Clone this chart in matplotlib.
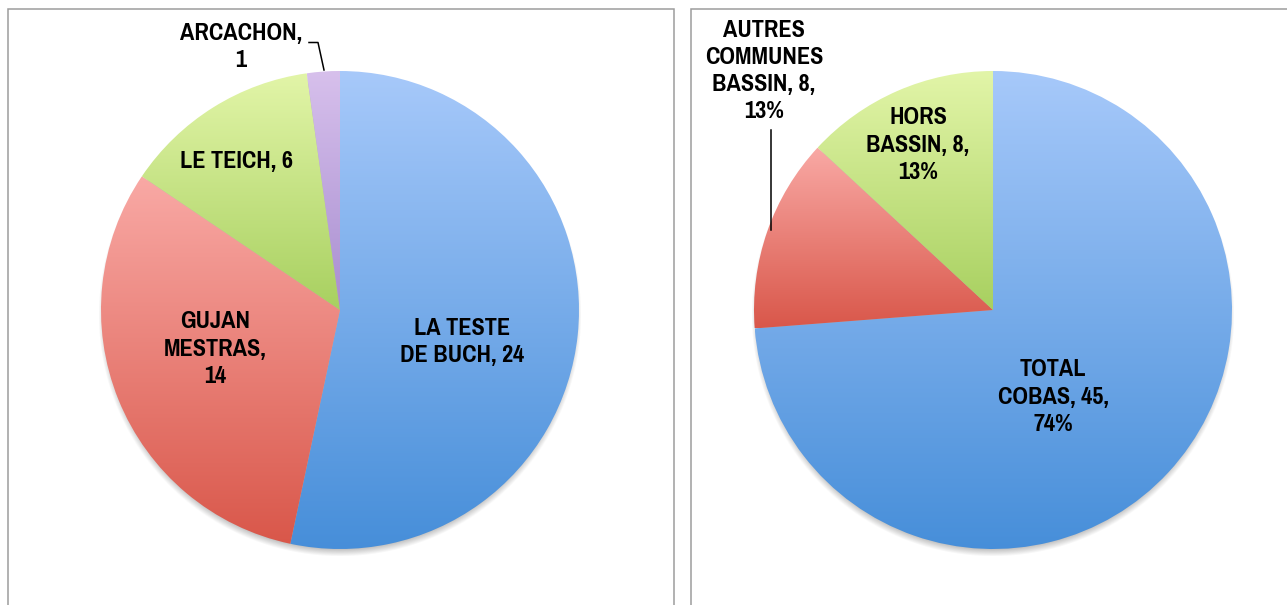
import numpy as np
import matplotlib
matplotlib.use("Agg")
import matplotlib.pyplot as plt
from matplotlib.colors import to_rgb

# ---------------- data ----------------
left_categories = ["LA TESTE\nDE BUCH", "GUJAN\nMESTRAS", "LE TEICH", "ARCACHON"]
left_values = [24, 14, 6, 1]
right_categories = ["TOTAL\nCOBAS", "AUTRES\nCOMMUNES\nBASSIN", "HORS\nBASSIN"]
right_values = [45, 8, 8]

# ---------------- style ----------------
W, H = 1287, 605
FONT = ["Pragati Narrow", "PT Sans Narrow", "Liberation Sans", "DejaVu Sans"]
grad_left = [("#a7c9fa", "#468ed9"), ("#f9a9a5", "#d9574a"),
             ("#e2f5a8", "#a8d060"), ("#d7c0ec", "#a88ed0")]
grad_right = [("#a7c9fa", "#468ed9"), ("#f9a9a5", "#d9574a"),
              ("#e2f5a8", "#a8d060")]
R = 239

fig = plt.figure(figsize=(W / 100, H / 100), dpi=100)
ax = fig.add_axes([0, 0, 1, 1])


def Y(y):
    return H - y


def shadow(cx, cy, R):
    m = 25
    xs = np.arange(cx - R - m, cx + R + m)
    ys = np.arange(cy - R - m, cy + R + m)
    X, YY = np.meshgrid(xs, ys)
    d = np.hypot(X - cx, YY - (cy - 5))
    a = 0.45 * np.clip((R + 3 - d) / 9.0, 0, 1)
    img = np.zeros(X.shape + (4,))
    img[..., :3] = 0.35
    img[..., 3] = a
    ax.imshow(img, extent=(xs[0], xs[-1], ys[0], ys[-1]), origin="lower",
              zorder=1, interpolation="bilinear")


def gradient_pie(values, center, R, grads):
    wedges, _ = ax.pie(values, center=center, radius=R, startangle=90,
                       counterclock=False, frame=True,
                       wedgeprops=dict(linewidth=0, zorder=2))
    for w, (top, bot) in zip(wedges, grads):
        v = w.get_path().vertices
        x0, x1 = v[:, 0].min(), v[:, 0].max()
        y0, y1 = v[:, 1].min(), v[:, 1].max()
        t = np.linspace(0, 1, 256)[:, None]
        c0, c1 = np.array(to_rgb(bot)), np.array(to_rgb(top))
        img = (c0 * (1 - t) + c1 * t)[:, None, :]
        w.set_facecolor("none")
        im = ax.imshow(img, extent=(x0, x1, y0, y1), origin="lower",
                       aspect="auto", zorder=3, interpolation="bilinear")
        im.set_clip_path(w)
    return wedges


# panel frames
fc = "#9c9c9c"
ax.plot([7.5, 7.5, 674, 674], [-5, Y(9), Y(9), -5], color=fc, lw=1.1, zorder=0,
        solid_joinstyle="miter")
ax.plot([691, 691, W + 5], [-5, Y(9), Y(9)], color=fc, lw=1.1, zorder=0,
        solid_joinstyle="miter")

# left pie
lc = (340, Y(310))
shadow(lc[0], lc[1], R)
gradient_pie(left_values, lc, R, grad_left)

# right pie
rc = (993, Y(310))
shadow(rc[0], rc[1], R)
gradient_pie(right_values, rc, R, grad_right)
ax.set_xlim(0, W)
ax.set_ylim(0, H)
ax.set_aspect("equal")
ax.axis("off")

tk = dict(ha="center", va="center", fontsize=19, fontweight="bold",
          family=FONT, color="#000000", zorder=6, linespacing=1.36)

# left labels
left_seps = [", ", ",\n", ", ", ",\n"]
left_pos = [(462, 342), (215, 349), (237, 162), (241, 47)]
for cat, v, sep, (x, y) in zip(left_categories, left_values, left_seps, left_pos):
    ax.text(x, Y(y), f"{cat}{sep}{v}", **tk)
# ARCACHON leader line
ax.plot([309, 318, 324], [Y(42.5), Y(42.5), Y(70)], color="black", lw=1.1, zorder=6)

# right labels
tot = sum(right_values)
right_pos = [(1053, 397), (764, 71), (918, 145)]
for cat, v, (x, y) in zip(right_categories, right_values, right_pos):
    pct = round(100 * v / tot)
    ax.text(x, Y(y), f"{cat}, {v},\n{pct}%", **tk)
ax.plot([771, 771], [Y(130), Y(230)], color="black", lw=1.1, zorder=6)

fig.savefig("out.png", dpi=100)
